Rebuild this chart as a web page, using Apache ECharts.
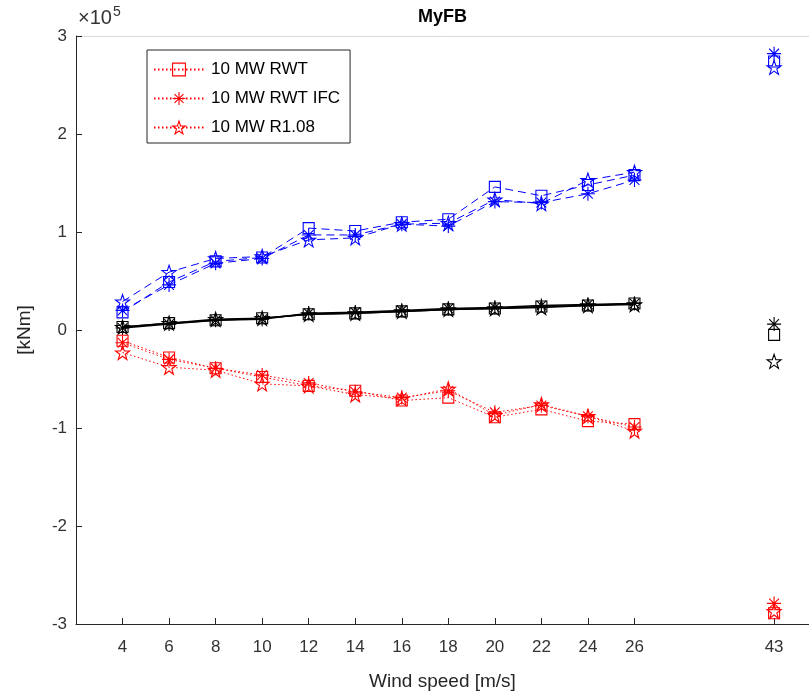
<!DOCTYPE html>
<html>
<head>
<meta charset="utf-8">
<script src="https://cdn.jsdelivr.net/npm/echarts@6/dist/echarts.min.js"></script>
<style>html,body{margin:0;padding:0;background:#fff}#c{width:809px;height:698px}</style>
</head>
<body>
<div id="c"></div>
<script>
// Tick labels along the wind-speed axis (blank entries are gaps in the axis)
const windLabels = ['4','6','8','10','12','14','16','18','20','22','24','26','','','43'];
const windSpeeds = [4,6,8,10,12,14,16,18,20,22,24,26,43];

// Blue (dashed) group
const blueRWT  = [18000, 49000, 70000, 74000, 104000, 101000, 110000, 113000, 146000, 137000, 148000, 158000, 274000];
const blueIFC  = [20000, 46000, 68000, 73000, 97000, 97000, 108000, 106000, 131000, 130000, 139000, 153000, 282000];
const blueR108 = [29000, 59000, 73000, 75000, 92000, 94000, 108000, 109000, 133000, 129000, 153000, 161000, 268000];
// Black (solid) group
const blackRWT  = [3000, 7000, 10000, 12000, 16000, 17000, 19000, 21000, 22000, 24000, 25000, 27000, -5000];
const blackIFC  = [2000, 6000, 10000, 11000, 17000, 18000, 20000, 22000, 23000, 25000, 26000, 27000, 6000];
const blackR108 = [3000, 7000, 11000, 12000, 16000, 17000, 19000, 21000, 22000, 23000, 25000, 26000, -32000];
// Red (dotted) group
const redRWT  = [-11000, -28000, -39000, -48000, -57000, -62000, -72000, -69000, -89000, -81000, -93000, -96000, -289000];
const redIFC  = [-13000, -30000, -39000, -46000, -54000, -63000, -69000, -62000, -84000, -77000, -88000, -99000, -279000];
const redR108 = [-23000, -38000, -41000, -55000, -57000, -66000, -70000, -60000, -87000, -76000, -88000, -103000, -287000];

const legendNames = ['10 MW RWT', '10 MW RWT IFC', '10 MW R1.08'];

const SYM_SQUARE = 'rect';
const SYM_AST = 'path://M10,0 L10,20 M0,10 L20,10 M3,3 L17,17 M3,17 L17,3';
const SYM_STAR = 'path://M10,0 L12.35,7.24 L19.51,7.24 L13.68,11.71 L15.88,18.82 L10,14.47 L4.12,18.82 L6.32,11.71 L0.49,7.24 L7.65,7.24 Z';

function toData(vals) {
  const pts = [];
  vals.forEach((v, i) => {
    const pos = windLabels.indexOf(String(windSpeeds[i]));
    if (i > 0) {
      const prev = windLabels.indexOf(String(windSpeeds[i - 1]));
      if (pos - prev > 1) pts.push([(pos + prev) / 2, '-']);
    }
    pts.push([pos, v]);
  });
  return pts;
}

function mk(name, vals, color, type, width, symbol, size) {
  return {
    name: name,
    type: 'line',
    data: toData(vals),
    symbol: symbol,
    symbolSize: size,
    showAllSymbol: true,
    connectNulls: false,
    lineStyle: { color: color, width: width, type: type },
    itemStyle: { color: 'rgba(0,0,0,0)', borderColor: color, borderWidth: 1.1 },
    emphasis: { disabled: true },
    z: 3
  };
}

const dash = [8, 5];
const dot = [1.5, 2.5];
const series = [
  mk('b1', blueRWT, '#0000ff', dash, 1, SYM_SQUARE, 11),
  mk('b2', blueIFC, '#0000ff', dash, 1, SYM_AST, 14),
  mk('b3', blueR108, '#0000ff', dash, 1, SYM_STAR, 14),
  mk('k1', blackRWT, '#000000', 'solid', 1.5, SYM_SQUARE, 11),
  mk('k2', blackIFC, '#000000', 'solid', 1.5, SYM_AST, 14),
  mk('k3', blackR108, '#000000', 'solid', 1.5, SYM_STAR, 14),
  mk(legendNames[0], redRWT, '#ff0000', dot, 1, SYM_SQUARE, 11),
  mk(legendNames[1], redIFC, '#ff0000', dot, 1, SYM_AST, 14),
  mk(legendNames[2], redR108, '#ff0000', dot, 1, SYM_STAR, 14)
];

const tickPos = windLabels.map((l, i) => l !== '' ? i : null).filter(v => v !== null);
const FONT = '"Liberation Sans", Arial, sans-serif';

const chart = echarts.init(document.getElementById('c'), null, { renderer: 'canvas' });
chart.setOption({
  animation: false,
  backgroundColor: '#ffffff',
  textStyle: { fontFamily: FONT },
  grid: { left: 76, right: 0, top: 36, bottom: 74 },
  legend: {
    data: legendNames,
    orient: 'vertical',
    left: 147, top: 50,
    padding: [11, 10, 7, 6],
    itemWidth: 50, itemHeight: 16, itemGap: 12,
    borderColor: '#262626', borderWidth: 1,
    backgroundColor: '#ffffff',
    itemStyle: { color: 'rgba(0,0,0,0)', borderColor: '#ff0000', borderWidth: 1.1 },
    textStyle: { fontSize: 17, color: '#000', fontFamily: FONT, padding: [0, 0, 0, 2] },
    selectedMode: false
  },
  xAxis: [{
    type: 'value', min: -1, max: 14.75,
    name: 'Wind speed [m/s]', nameLocation: 'middle', nameGap: 48,
    nameTextStyle: { fontSize: 19, color: '#262626', fontFamily: FONT },
    axisLine: { show: true, onZero: false, lineStyle: { color: '#262626', width: 1 } },
    axisTick: { show: true, inside: true, length: 6, customValues: tickPos, lineStyle: { color: '#262626' } },
    axisLabel: { customValues: tickPos, formatter: v => windLabels[Math.round(v)], fontSize: 17, color: '#333', margin: 15, fontFamily: FONT },
    splitLine: { show: false }
  }, {
    type: 'value', position: 'top', min: -1, max: 14.75,
    axisLine: { show: true, onZero: false, lineStyle: { color: '#d9d9d9', width: 1 } },
    axisTick: { show: false }, axisLabel: { show: false }, splitLine: { show: false }
  }],
  yAxis: {
    type: 'value', min: -300000, max: 300000, interval: 100000,
    name: '[kNm]', nameLocation: 'middle', nameGap: 42, nameRotate: 90,
    nameTextStyle: { fontSize: 19, color: '#262626', fontFamily: FONT },
    axisLine: { show: true, onZero: false, lineStyle: { color: '#262626', width: 1 } },
    axisTick: { show: true, inside: true, length: 6, lineStyle: { color: '#262626' } },
    axisLabel: { formatter: v => String(Math.round(v / 100000)), fontSize: 17, color: '#333', margin: 9, fontFamily: FONT },
    splitLine: { show: false }
  },
  graphic: [
    { type: 'text', left: 418, top: 8, style: { text: 'MyFB', fontSize: 18, fontWeight: 'bold', fill: '#000', fontFamily: FONT } },
    { type: 'text', left: 78, top: 5, style: {
      text: '{a|×10}{b|5}', fill: '#333',
      rich: { a: { fontSize: 20, fontFamily: FONT, fill: '#333', verticalAlign: 'bottom' }, b: { fontSize: 14, fontFamily: FONT, fill: '#333', verticalAlign: 'top', padding: [0, 0, 9, 1] } }
    } }
  ],
  series: series
});
</script>
</body>
</html>
